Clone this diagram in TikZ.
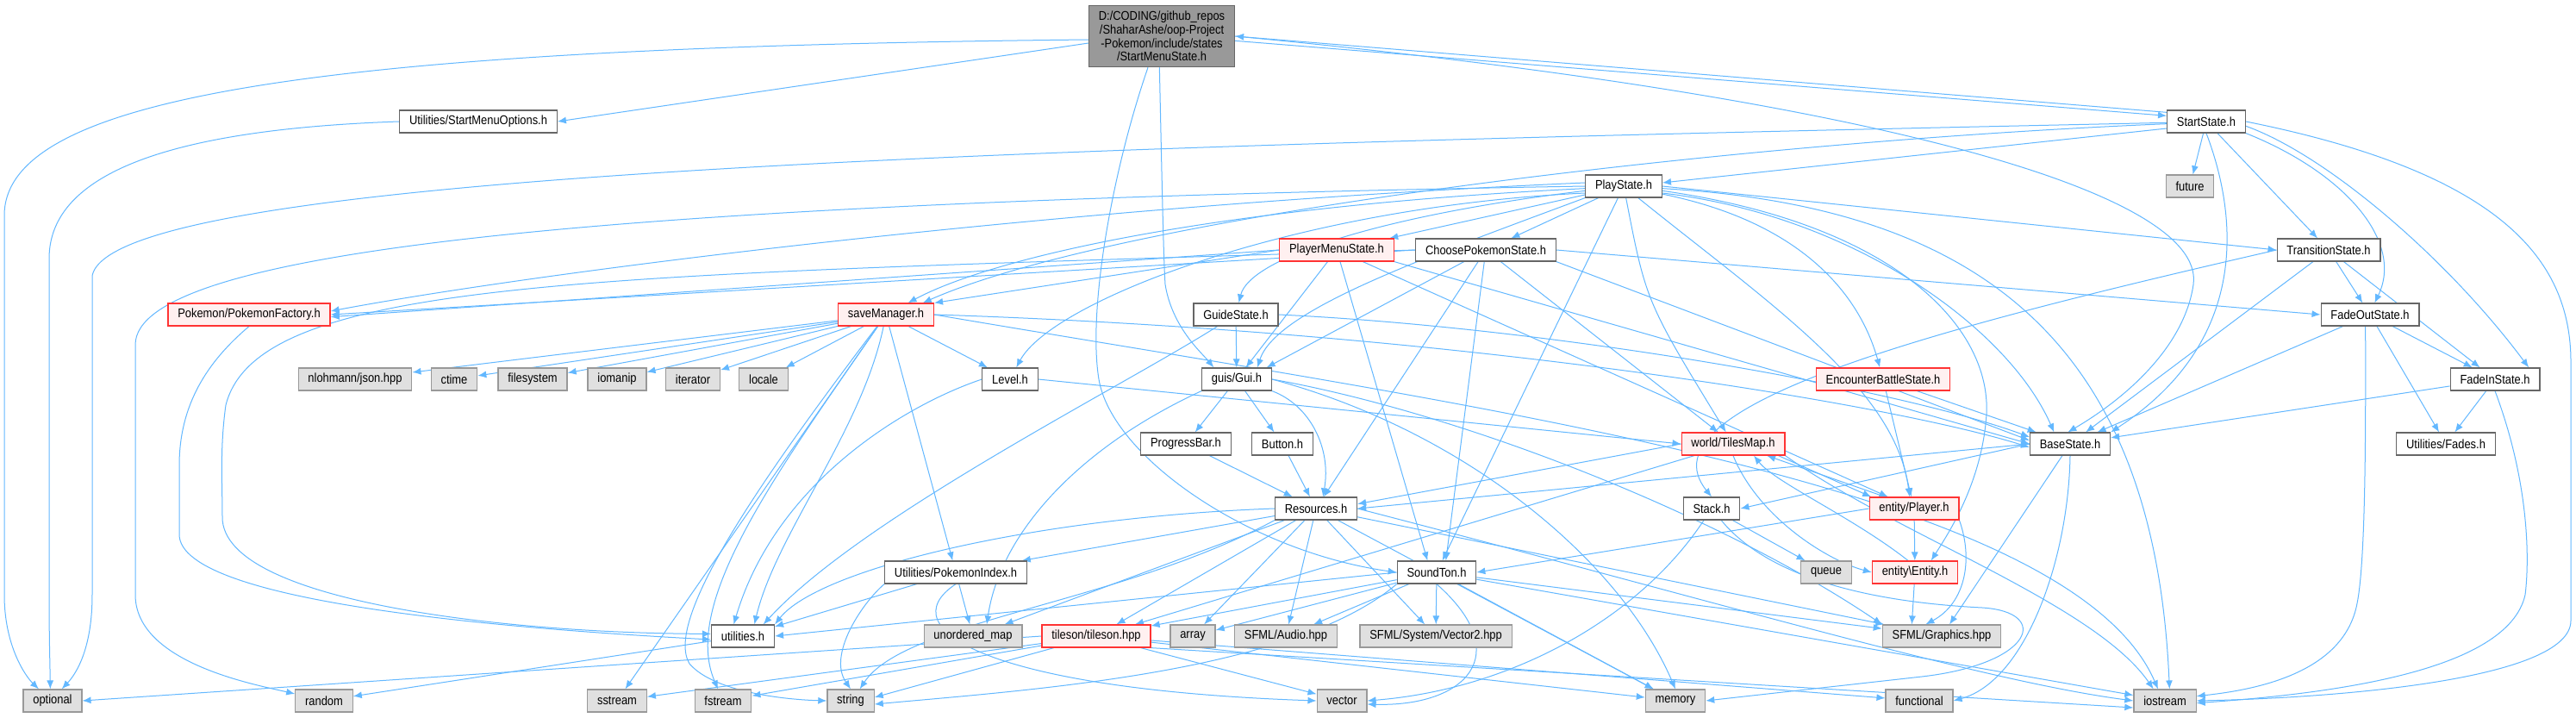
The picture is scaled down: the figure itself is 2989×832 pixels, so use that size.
\documentclass[tikz,border=0pt]{standalone}
\usepackage{fontspec}
\setmainfont{Liberation Sans}[FakeStretch=0.88]
\usetikzlibrary{arrows.meta}
\pgfdeclarelayer{background}
\pgfsetlayers{background,main}
\definecolor{edgeblue}{HTML}{63B8FF}
\definecolor{boxgray}{HTML}{666666}
\definecolor{boxred}{HTML}{FF3333}
\definecolor{boxpink}{HTML}{FFF0F0}
\definecolor{sysline}{HTML}{999999}
\definecolor{sysfill}{HTML}{E0E0E0}
\definecolor{rootfill}{HTML}{999999}
\tikzset{
	file/.style={draw=boxgray, fill=white, line width=0.9pt, inner xsep=8.5pt, inner ysep=2pt, minimum height=19.5pt, font=\fontsize{11}{11.8}\selectfont},
	redfile/.style={file, draw=boxred, fill=boxpink},
	sysfile/.style={file, draw=sysline, fill=sysfill},
	rootfile/.style={file, fill=rootfill, align=center, inner ysep=5pt},
	dep/.style={draw=edgeblue, line width=0.75pt, -{Latex[length=7.5pt,width=6pt]}},
}
\begin{document}
\begin{tikzpicture}[x=0.75pt,y=-0.75pt]
			\useasboundingbox (0,0) rectangle (2989,832);

			\node[rootfile] (startmenu) at (1348,42) {D:/CODING/github\_repos\\/ShaharAshe/oop-Project\\-Pokemon/include/states\\/StartMenuState.h};

			\node[file] (menuopts) at (555,141) {Utilities/StartMenuOptions.h};
			\node[file] (startstate) at (2560,141) {StartState.h};
			\node[file] (playstate) at (1884,216) {PlayState.h};
			\node[sysfile] (future) at (2541,216) {future};
			\node[redfile] (playermenu) at (1551,290) {PlayerMenuState.h};
			\node[file] (choosepoke) at (1724,290) {ChoosePokemonState.h};
			\node[file] (transition) at (2702,290) {TransitionState.h};
			\node[redfile] (factory) at (289,365) {Pokemon/PokemonFactory.h};
			\node[redfile] (savemgr) at (1028,365) {saveManager.h};
			\node[file] (guide) at (1434,365) {GuideState.h};
			\node[file] (fadeout) at (2750,365) {FadeOutState.h};

			\node[sysfile] (json) at (412,440) {nlohmann/json.hpp};
			\node[sysfile] (ctime) at (527,440) {ctime};
			\node[sysfile] (filesystem) at (618,440) {filesystem};
			\node[sysfile] (iomanip) at (716,440) {iomanip};
			\node[sysfile] (iterator) at (804,440) {iterator};
			\node[sysfile] (locale) at (886,440) {locale};
			\node[file] (level) at (1172,440) {Level.h};
			\node[file] (gui) at (1435,440) {guis/Gui.h};
			\node[redfile] (encounter) at (2185,440) {EncounterBattleState.h};
			\node[file] (fadein) at (2895,440) {FadeInState.h};

			\node[file] (progress) at (1376,515) {ProgressBar.h};
			\node[file] (button) at (1488,515) {Button.h};
			\node[redfile] (tilesmap) at (2011,515) {world/TilesMap.h};
			\node[file] (basestate) at (2402,515) {BaseState.h};
			\node[file] (fades) at (2838,515) {Utilities/Fades.h};

			\node[file] (resources) at (1527,590) {Resources.h};
			\node[file] (stack) at (1986,590) {Stack.h};
			\node[redfile] (player) at (2221,590) {entity/Player.h};

			\node[file] (pokeindex) at (1109,664) {Utilities/PokemonIndex.h};
			\node[file] (soundton) at (1667,664) {SoundTon.h};
			\node[sysfile] (queue) at (2119,664) {queue};
			\node[redfile] (entity) at (2222,664) {entity\textbackslash Entity.h};

			\node[file] (utilities) at (862,738) {utilities.h};
			\node[sysfile] (umap) at (1129,738) {unordered\_map};
			\node[redfile] (tileson) at (1272,738) {tileson/tileson.hpp};
			\node[sysfile] (array) at (1384,738) {array};
			\node[sysfile] (audio) at (1492,738) {SFML/Audio.hpp};
			\node[sysfile] (vector2) at (1666,738) {SFML/System/Vector2.hpp};
			\node[sysfile] (graphics) at (2253,738) {SFML/Graphics.hpp};

			\node[sysfile] (optional) at (61,813) {optional};
			\node[sysfile] (random) at (376,813) {random};
			\node[sysfile] (sstream) at (716,813) {sstream};
			\node[sysfile] (fstream) at (839,813) {fstream};
			\node[sysfile] (string) at (987,813) {string};
			\node[sysfile] (vector) at (1557,813) {vector};
			\node[sysfile] (memory) at (1944,813) {memory};
			\node[sysfile] (functional) at (2227,813) {functional};
			\node[sysfile] (iostream) at (2512,813) {iostream};

			\begin{pgfonlayer}{background}
			\fill[white] (0,0) rectangle (2989,832);

			\draw[dep] ([yshift=-6pt]startmenu.west) -- (menuopts.east);
			\draw[dep] ([yshift=-3pt]startmenu.west) .. controls (380,55) and (5,110) .. (5,250) -- (5,690) .. controls (5,750) and (30,785) .. ([xshift=-12pt]optional.north);
			\draw[dep] ([yshift=-4pt]startmenu.east) -- ([yshift=5pt]startstate.west);
			\draw[dep] ([yshift=8pt]startstate.west) -- ([yshift=0pt]startmenu.east);
			\draw[dep] ([xshift=-12pt]startmenu.south) .. controls (1290,200) and (1262,360) .. (1275,440) .. controls (1290,530) and (1450,640) .. (soundton.west);
			\draw[dep] ([xshift=-2pt]startmenu.south) .. controls (1348,200) and (1350,300) .. (1352,330) .. controls (1360,380) and (1395,410) .. ([xshift=-20pt]gui.north);
			\draw[dep] (startmenu.east) .. controls (2150,110) and (2560,220) .. (2545,330) .. controls (2535,400) and (2470,460) .. ([xshift=-2pt]basestate.north);

			\draw[dep] (menuopts.west) .. controls (200,150) and (57,200) .. (57,300) -- (57,690) .. controls (57,740) and (58,770) .. ([xshift=-2pt]optional.north);

			\draw[dep] (startstate) -- (future);
			\draw[dep] ([yshift=-6pt]startstate.west) -- ([yshift=3pt]playstate.east);
			\draw[dep] ([yshift=-2pt]startstate.west) .. controls (2000,165) and (1300,250) .. ([xshift=-10pt]savemgr.north east);
			\draw[dep] ([yshift=-1pt]startstate.west) .. controls (1200,170) and (130,200) .. (107,320) -- (107,690) .. controls (107,750) and (90,780) .. ([xshift=8pt]optional.north);
			\draw[dep] (startstate) -- (transition);
			\draw[dep] (startstate.south east) .. controls (2720,200) and (2790,280) .. ([xshift=4pt]fadeout.north);
			\draw[dep] ([yshift=-4pt]startstate.east) .. controls (2700,180) and (2840,300) .. ([xshift=-10pt]fadein.north east);
			\draw[dep] (startstate.south) .. controls (2600,260) and (2605,400) .. (basestate.north east);
			\draw[dep] (startstate.east) .. controls (2900,200) and (2983,300) .. (2983,420) -- (2983,720) .. controls (2983,790) and (2700,810) .. (iostream.east);

			\draw[dep] (playstate.west) .. controls (700,235) and (157,290) .. (157,400) -- (157,690) .. controls (157,770) and (300,795) .. (random);
			\draw[dep] ([yshift=3pt]playstate.west) .. controls (1200,240) and (600,320) .. ([yshift=3pt]factory.east);
			\draw[dep] ([yshift=-2pt]playstate.west) .. controls (1400,240) and (1150,300) .. (savemgr);
			\draw[dep] ([yshift=-4pt]playstate.west) .. controls (1600,250) and (1450,300) .. (guide);
			\draw[dep] ([yshift=-6pt]playstate.west) .. controls (1500,240) and (1220,350) .. (level);
			\draw[dep] (playstate.south west) .. controls (1650,300) and (1480,360) .. ([xshift=18pt]gui.north);
			\draw[dep] (playstate) -- (playermenu);
			\draw[dep] (playstate) -- (choosepoke);
			\draw[dep] (playstate) -- (soundton);
			\draw[dep] (playstate) .. controls (1910,350) .. (tilesmap);
			\draw[dep] (playstate) .. controls (2050,350) and (2200,450) .. ([xshift=-4pt]player.north);
			\draw[dep] (playstate) .. controls (2100,260) and (2160,350) .. (encounter);
			\draw[dep] ([yshift=-4pt]playstate.east) .. controls (2200,260) and (2310,380) .. (2305,480) .. controls (2300,560) and (2260,620) .. ([xshift=14pt]entity.north);
			\draw[dep] (playstate.east) -- (transition.west);
			\draw[dep] ([yshift=-6pt]playstate.east) .. controls (2150,250) and (2330,380) .. ([xshift=-14pt]basestate.north);
			\draw[dep] ([yshift=-2pt]playstate.east) .. controls (2300,240) and (2500,400) .. ([xshift=4pt]iostream.north);

			\draw[dep] (playermenu.west) -- ([yshift=-2pt]factory.east);
			\draw[dep] (playermenu.west) -- (savemgr.north east);
			\draw[dep] (playermenu) -- (gui);
			\draw[dep] (playermenu) -- ([xshift=-8pt]soundton.north);
			\draw[dep] (playermenu) -- (player);
			\draw[dep] (playermenu.south east) -- (basestate.west);

			\draw[dep] (choosepoke.west) -- (factory.east);
			\draw[dep] (choosepoke.west) .. controls (700,320) and (300,320) .. (262,470) .. controls (255,520) and (258,560) .. (258,600) .. controls (258,700) and (600,735) .. ([yshift=2pt]utilities.west);
			\draw[dep] (choosepoke) -- ([xshift=26pt]gui.north);
			\draw[dep] (choosepoke) -- (resources);
			\draw[dep] (choosepoke) -- ([xshift=8pt]soundton.north);
			\draw[dep] (choosepoke) -- (tilesmap);
			\draw[dep] (choosepoke.east) -- (fadeout.west);
			\draw[dep] (choosepoke.south east) -- ([yshift=3pt]basestate.west);

			\draw[dep] (factory.south) .. controls (240,420) and (208,470) .. (208,540) -- (208,620) .. controls (208,700) and (600,730) .. ([yshift=-3pt]utilities.west);

			\draw[dep] (savemgr) -- (json);
			\draw[dep] (savemgr) -- (ctime);
			\draw[dep] (savemgr) -- (filesystem);
			\draw[dep] (savemgr) -- (iomanip);
			\draw[dep] (savemgr) -- (iterator);
			\draw[dep] (savemgr) -- (locale);
			\draw[dep] (savemgr) -- (level);
			\draw[dep] (savemgr) -- (pokeindex);
			\draw[dep] (savemgr) -- (sstream);
			\draw[dep] (savemgr) .. controls (900,550) and (790,700) .. (fstream);
			\draw[dep] (savemgr) .. controls (880,560) and (770,720) .. (800,770) .. controls (830,805) and (920,812) .. (string.west);
			\draw[dep] (savemgr) .. controls (1000,500) and (900,620) .. ([xshift=10pt]utilities.north);
			\draw[dep] (savemgr.east) .. controls (1700,385) and (2200,470) .. ([yshift=-3pt]basestate.west);
			\draw[dep] (savemgr.east) .. controls (1700,470) and (2400,560) .. ([xshift=-6pt]iostream.north);

			\draw[dep] (guide) -- (gui);
			\draw[dep] (guide.east) .. controls (1800,380) and (2200,450) .. ([yshift=6pt]basestate.west);
			\draw[dep] (guide) .. controls (1300,450) and (1000,600) .. ([xshift=-10pt]utilities.north east);

			\draw[dep] (level.east) -- (tilesmap.west);
			\draw[dep] (level.west) .. controls (1050,470) and (900,560) .. ([xshift=-8pt]utilities.north);

			\draw[dep] (gui) -- (progress);
			\draw[dep] (gui) -- (button);
			\draw[dep] (gui.south east) .. controls (1520,470) and (1545,520) .. ([xshift=6pt]resources.north);
			\draw[dep] (gui.south west) .. controls (1250,520) and (1160,620) .. ([xshift=12pt]umap.north);
			\draw[dep] (gui.east) .. controls (1700,500) and (1880,650) .. (memory.north);
			\draw[dep] (gui.east) .. controls (1700,480) and (2000,600) .. (graphics.north west);

			\draw[dep] (progress) -- (resources);
			\draw[dep] (button) -- (resources);

			\draw[dep] (encounter) -- (player);
			\draw[dep] (encounter) -- (basestate);

			\draw[dep] (transition.west) .. controls (2250,380) and (1900,470) .. (stack.north);
			\draw[dep] (transition) -- (fadeout);
			\draw[dep] (transition) -- (fadein);
			\draw[dep] (transition) -- (basestate);

			\draw[dep] (fadeout) -- (fadein);
			\draw[dep] (fadeout) -- (basestate);
			\draw[dep] (fadeout) -- (fades);
			\draw[dep] ([xshift=-4pt]fadeout.south) .. controls (2745,500) and (2745,650) .. (2735,700) .. controls (2720,780) and (2620,800) .. ([yshift=4pt]iostream.east);

			\draw[dep] (fadein) -- (basestate);
			\draw[dep] (fadein) -- (fades);
			\draw[dep] (fadein.south) .. controls (2935,560) and (2935,650) .. (2930,690) .. controls (2910,780) and (2700,805) .. ([yshift=-2pt]iostream.east);

			\draw[dep] (basestate.west) -- (stack.east);
			\draw[dep] (basestate.west) -- (resources.east);
			\draw[dep] (basestate) -- (graphics);
			\draw[dep] (basestate.south) .. controls (2400,650) and (2350,790) .. (functional.east);

			\draw[dep] (tilesmap.west) -- ([yshift=4pt]resources.east);
			\draw[dep] (tilesmap) -- (tileson);
			\draw[dep] ([xshift=-6pt]tilesmap.south east) -- ([xshift=2pt]player.north west);
			\draw[dep] ([xshift=14pt]player.north west) -- ([xshift=-16pt]tilesmap.south east);
			\draw[dep] (tilesmap.south) .. controls (2040,600) and (2120,650) .. (entity.west);
			\draw[dep] ([xshift=-6pt]entity.north) .. controls (2150,600) and (2060,560) .. ([xshift=18pt]tilesmap.south);
			\draw[dep] (tilesmap.south east) .. controls (2200,620) and (2430,700) .. ([xshift=-10pt]iostream.north);

			\draw[dep] (player) -- (entity);
			\draw[dep] (player.west) -- (soundton.east);
			\draw[dep] (player.south east) .. controls (2290,650) and (2280,700) .. ([xshift=-14pt]graphics.north);
			\draw[dep] (entity) -- ([xshift=-26pt]graphics.north);

			\draw[dep] (stack) -- (queue);
			\draw[dep] (stack) .. controls (1900,720) and (1750,800) .. (vector.east);
			\draw[dep] (stack) .. controls (2060,680) and (2200,700) .. (2300,705) .. controls (2380,710) and (2360,770) .. (2230,785) -- (memory.east);

			\draw[dep] (soundton.west) -- (utilities.east);
			\draw[dep] (soundton) -- (tileson);
			\draw[dep] (soundton) -- (array);
			\draw[dep] (soundton) -- (audio);
			\draw[dep] (soundton) -- (vector2);
			\draw[dep] (soundton.south west) .. controls (1500,780) and (1200,800) .. ([yshift=-3pt]string.east);
			\draw[dep] (soundton.south) .. controls (1760,760) and (1700,820) .. ([yshift=-3pt]vector.east);
			\draw[dep] (soundton) -- (memory);
			\draw[dep] (soundton) -- (graphics);
			\draw[dep] (soundton) -- (iostream);

			\draw[dep] (resources) -- (pokeindex);
			\draw[dep] (resources.west) .. controls (1200,600) and (950,660) .. (utilities.north east);
			\draw[dep] (resources) -- (umap);
			\draw[dep] (resources) -- (tileson);
			\draw[dep] (resources) -- (array);
			\draw[dep] (resources) -- (audio);
			\draw[dep] (resources) -- (vector2);
			\draw[dep] (resources.south west) .. controls (1300,700) and (1050,720) .. ([xshift=8pt]string.north);
			\draw[dep] (resources) -- (memory);
			\draw[dep] (resources) -- (graphics);
			\draw[dep] (resources.east) .. controls (2000,700) and (2300,790) .. (iostream.west);

			\draw[dep] (pokeindex) -- (utilities);
			\draw[dep] (pokeindex) -- (umap);
			\draw[dep] (pokeindex.south west) .. controls (1000,700) and (960,760) .. (string.north);
			\draw[dep] (pokeindex.south) .. controls (1030,730) and (1150,800) .. (vector.west);

			\draw[dep] (tileson.west) -- (optional.east);
			\draw[dep] (tileson) -- (sstream);
			\draw[dep] (tileson) -- (fstream);
			\draw[dep] (tileson) -- ([yshift=3pt]string.east);
			\draw[dep] (tileson) -- (vector);
			\draw[dep] (tileson) -- (memory);
			\draw[dep] (tileson) -- (functional);
			\draw[dep] (tileson.south east) -- ([yshift=-6pt]iostream.west);

			\draw[dep] (utilities) -- (random);
			\end{pgfonlayer}
	\end{tikzpicture}
\end{document}
